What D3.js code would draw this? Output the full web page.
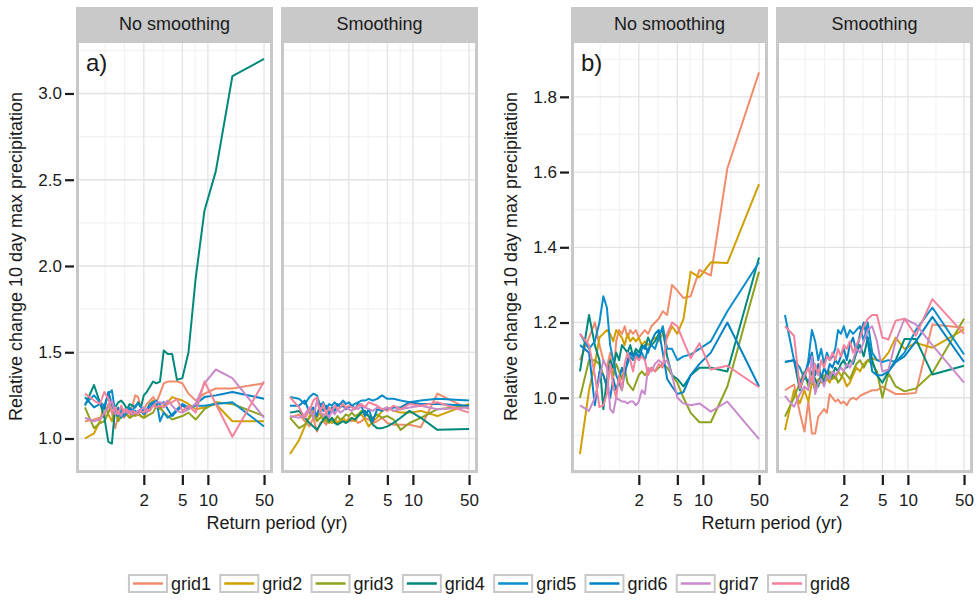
<!DOCTYPE html>
<html>
<head>
<meta charset="utf-8">
<script src="https://cdn.jsdelivr.net/npm/d3@7"></script>
<style>
  body { margin: 0; background: #ffffff; }
  svg { display: block; }
  text { font-family: "Liberation Sans", Arial, Helvetica, sans-serif; }
</style>
</head>
<body>
<svg id="chart" width="979" height="600"></svg>
<script>
// Return periods (yr) of the ranked annual maxima, shortest to longest
const returnPeriods = [1.0204, 1.0526, 1.0870, 1.1236, 1.1628, 1.2048, 1.25, 1.2987, 1.3514, 1.4085,
  1.4706, 1.5385, 1.6129, 1.6949, 1.7857, 1.8868, 2, 2.1277, 2.2727, 2.4390,
  2.6316, 2.8571, 3.125, 3.4483, 3.8462, 4.3478, 5, 5.8824, 7.1429, 9.0909,
  12.5, 20, 50];

const gridNames = ["grid1", "grid2", "grid3", "grid4", "grid5", "grid6", "grid7", "grid8"];
const gridColors = ["#F08C6C", "#D1A000", "#8FA11E", "#00897A", "#0A8DCB", "#0082C4", "#C98ACB", "#F3829A"];
const facetNames = ["No smoothing", "Smoothing"];
const xBreaks = [2, 5, 10, 50];
const yBreaksA = [1.0, 1.5, 2.0, 2.5, 3.0];
const yBreaksB = [1.0, 1.2, 1.4, 1.6, 1.8];
const yLimitsA = [0.8, 3.31];
const yLimitsB = [0.8, 1.951];

// a) no smoothing, one row per grid cell (grid1 .. grid8)
const aNoSmoothing = [
  [1.10,1.11,1.12,1.13,1.20,1.15,1.06,1.13,1.14,1.12,1.16,1.15,1.19,1.25,1.24,1.18,1.17,1.20,1.22,1.24,1.21,1.26,1.32,1.33,1.33,1.33,1.32,1.26,1.22,1.26,1.29,1.29,1.32],
  [1.00,1.03,1.10,1.20,1.14,1.10,1.18,1.12,1.15,1.13,1.14,1.12,1.15,1.13,1.14,1.13,1.12,1.16,1.20,1.22,1.18,1.17,1.19,1.21,1.24,1.23,1.22,1.20,1.17,1.18,1.20,1.10,1.10],
  [1.18,1.06,1.09,1.10,1.15,1.20,1.16,1.10,1.13,1.15,1.14,1.12,1.13,1.14,1.15,1.13,1.12,1.13,1.14,1.15,1.19,1.18,1.15,1.13,1.11,1.12,1.13,1.15,1.11,1.17,1.21,1.20,1.13],
  [1.19,1.31,1.21,1.12,0.98,0.97,1.18,1.21,1.22,1.20,1.17,1.20,1.19,1.18,1.21,1.18,1.25,1.27,1.30,1.33,1.32,1.33,1.51,1.49,1.49,1.34,1.35,1.50,1.93,2.32,2.55,3.10,3.20],
  [1.20,1.25,1.21,1.19,1.26,1.28,1.15,1.13,1.17,1.13,1.15,1.18,1.16,1.19,1.20,1.19,1.15,1.17,1.20,1.21,1.22,1.10,1.15,1.12,1.14,1.17,1.20,1.18,1.19,1.19,1.20,1.21,1.07],
  [1.24,1.18,1.20,1.17,1.27,1.20,1.14,1.18,1.12,1.16,1.15,1.17,1.14,1.16,1.14,1.16,1.14,1.16,1.18,1.20,1.21,1.20,1.21,1.17,1.13,1.16,1.19,1.17,1.20,1.24,1.25,1.27,1.23],
  [1.12,1.10,1.11,1.15,1.18,1.22,1.14,1.16,1.13,1.17,1.15,1.16,1.14,1.15,1.16,1.17,1.18,1.15,1.17,1.19,1.21,1.21,1.20,1.22,1.19,1.16,1.15,1.17,1.20,1.32,1.40,1.35,1.12],
  [1.26,1.22,1.20,1.27,1.23,1.15,1.18,1.14,1.19,1.15,1.17,1.14,1.16,1.15,1.14,1.16,1.15,1.17,1.16,1.19,1.18,1.19,1.18,1.20,1.21,1.23,1.16,1.19,1.15,1.33,1.20,1.01,1.33]
];

// a) smoothing
const aSmoothing = [
  [1.12,1.14,1.10,1.07,1.12,1.04,1.09,1.10,1.08,1.12,1.09,1.10,1.09,1.11,1.10,1.09,1.12,1.10,1.11,1.09,1.10,1.12,1.11,1.09,1.10,1.12,1.09,1.08,1.08,1.08,1.065,1.26,1.17],
  [0.91,0.99,1.07,1.13,1.16,1.12,1.15,1.10,1.12,1.10,1.09,1.11,1.09,1.10,1.12,1.10,1.11,1.12,1.10,1.13,1.14,1.11,1.07,1.10,1.12,1.16,1.18,1.16,1.15,1.15,1.16,1.13,1.20],
  [1.12,1.06,1.08,1.12,1.15,1.10,1.12,1.14,1.10,1.09,1.12,1.10,1.13,1.11,1.12,1.14,1.13,1.15,1.13,1.14,1.16,1.14,1.13,1.12,1.14,1.12,1.13,1.11,1.05,1.09,1.12,1.17,1.19],
  [1.15,1.16,1.12,1.09,1.07,1.05,1.08,1.11,1.13,1.10,1.12,1.09,1.08,1.09,1.10,1.09,1.10,1.12,1.11,1.13,1.15,1.16,1.13,1.08,1.06,1.06,1.07,1.09,1.12,1.16,1.12,1.05,1.055],
  [1.24,1.23,1.20,1.24,1.26,1.25,1.19,1.21,1.17,1.20,1.19,1.21,1.19,1.20,1.22,1.20,1.21,1.19,1.20,1.21,1.22,1.22,1.23,1.22,1.23,1.25,1.23,1.23,1.22,1.21,1.22,1.23,1.22],
  [1.19,1.19,1.22,1.15,1.18,1.13,1.20,1.16,1.19,1.14,1.18,1.16,1.20,1.18,1.19,1.17,1.18,1.19,1.17,1.20,1.19,1.13,1.17,1.10,1.17,1.16,1.17,1.18,1.18,1.21,1.20,1.20,1.19],
  [1.13,1.12,1.14,1.18,1.12,1.22,1.16,1.13,1.15,1.12,1.16,1.14,1.17,1.15,1.16,1.18,1.17,1.16,1.18,1.17,1.19,1.18,1.17,1.16,1.18,1.17,1.18,1.16,1.17,1.18,1.19,1.17,1.18],
  [1.24,1.18,1.12,1.16,1.22,1.24,1.15,1.20,1.14,1.18,1.16,1.19,1.17,1.18,1.20,1.18,1.19,1.18,1.17,1.19,1.20,1.18,1.21,1.20,1.19,1.17,1.16,1.19,1.17,1.20,1.19,1.21,1.15]
];

// b) no smoothing
const bNoSmoothing = [
  [1.10,1.16,1.20,1.14,1.10,1.08,1.12,1.05,1.15,1.18,1.17,1.19,1.16,1.18,1.17,1.18,1.16,1.17,1.18,1.17,1.19,1.20,1.21,1.23,1.22,1.30,1.285,1.265,1.27,1.34,1.325,1.61,1.865],
  [0.85,1.02,1.09,1.16,1.17,1.18,1.17,1.15,1.18,1.17,1.16,1.14,1.17,1.15,1.16,1.15,1.16,1.14,1.15,1.14,1.15,1.16,1.15,1.17,1.16,1.19,1.17,1.21,1.335,1.32,1.36,1.358,1.568],
  [1.00,1.10,1.10,1.09,1.06,1.03,1.08,1.06,1.09,1.07,1.05,1.08,1.04,1.03,1.02,1.04,1.06,1.07,1.06,1.07,1.08,1.07,1.08,1.09,1.08,1.06,1.04,1.00,0.96,0.935,0.935,1.03,1.335],
  [1.07,1.22,1.14,1.10,0.97,1.05,1.10,1.08,1.12,1.10,1.14,1.13,1.12,1.14,1.11,1.13,1.12,1.14,1.13,1.16,1.14,1.15,1.17,1.18,1.11,1.06,1.05,1.03,1.06,1.08,1.08,1.07,1.373],
  [1.17,1.13,1.15,1.20,1.27,1.24,1.14,1.10,1.06,1.04,1.02,1.07,1.09,1.11,1.10,1.12,1.11,1.12,1.10,1.13,1.14,1.13,1.16,1.19,1.13,1.13,1.10,1.11,1.115,1.13,1.15,1.23,1.36],
  [1.14,1.12,0.98,1.07,1.06,1.03,1.00,1.05,1.02,1.05,1.08,1.06,1.10,1.12,1.11,1.12,1.10,1.13,1.14,1.12,1.15,1.17,1.18,1.12,1.05,1.03,1.01,1.015,1.06,1.09,1.12,1.20,1.03],
  [0.98,0.965,1.00,1.05,1.10,1.08,0.97,0.96,1.00,0.995,0.99,0.99,0.985,0.99,0.99,0.98,0.99,1.02,1.01,1.08,1.07,1.09,1.10,1.09,1.10,1.06,1.00,0.985,0.98,0.985,0.963,0.99,0.89],
  [1.17,1.14,1.06,0.975,0.98,1.01,1.09,1.03,1.00,1.06,1.02,1.09,1.12,1.10,1.07,1.11,1.10,1.11,1.10,1.06,1.08,1.07,1.09,1.08,1.17,1.20,1.19,1.15,1.105,1.145,1.075,1.085,1.028]
];

// b) smoothing
const bSmoothing = [
  [1.02,1.035,0.96,0.91,0.99,0.905,0.905,0.95,0.96,0.97,0.96,1.01,1.00,0.99,0.995,0.985,0.99,0.98,0.995,1.00,0.995,1.005,1.01,1.015,1.02,1.02,1.03,1.02,1.01,1.01,1.013,1.195,1.186],
  [0.914,1.02,0.985,1.02,0.99,1.04,1.03,1.05,1.04,1.06,1.05,1.04,1.06,1.05,1.07,1.06,1.05,1.03,1.04,1.06,1.08,1.07,1.09,1.10,1.105,1.10,1.10,1.12,1.16,1.13,1.146,1.133,1.182],
  [0.95,1.00,1.04,1.07,1.03,1.05,1.02,1.04,1.06,1.04,1.05,1.07,1.05,1.06,1.04,1.05,1.07,1.06,1.05,1.07,1.09,1.10,1.08,1.10,1.09,1.07,1.00,1.065,1.03,1.017,1.025,1.066,1.21],
  [1.095,1.10,1.02,1.06,1.04,1.07,1.05,1.03,1.06,1.04,1.07,1.05,1.06,1.08,1.07,1.09,1.10,1.08,1.10,1.09,1.12,1.14,1.11,1.16,1.10,1.06,1.04,1.07,1.10,1.156,1.156,1.062,1.085],
  [1.22,1.10,1.08,1.05,1.10,1.18,1.15,1.10,1.13,1.09,1.12,1.10,1.11,1.13,1.18,1.17,1.19,1.16,1.18,1.17,1.18,1.19,1.15,1.20,1.12,1.10,1.095,1.10,1.095,1.12,1.18,1.24,1.115],
  [1.095,1.10,1.04,1.06,1.09,1.12,1.06,1.09,1.05,1.08,1.06,1.09,1.08,1.10,1.09,1.11,1.13,1.10,1.14,1.16,1.12,1.17,1.20,1.15,1.07,1.06,1.06,1.07,1.095,1.11,1.15,1.215,1.095],
  [1.005,0.976,1.01,1.03,1.02,1.11,1.01,1.04,1.05,1.03,1.06,1.05,1.07,1.06,1.07,1.08,1.07,1.09,1.08,1.10,1.13,1.12,1.15,1.18,1.19,1.15,1.07,1.075,1.15,1.21,1.195,1.14,1.04],
  [1.19,1.165,1.025,1.06,1.08,1.04,1.09,1.06,1.10,1.08,1.11,1.10,1.12,1.10,1.13,1.11,1.14,1.13,1.15,1.12,1.14,1.16,1.19,1.21,1.22,1.22,1.16,1.155,1.205,1.21,1.165,1.262,1.17]
];

// ---- drawing ----
const svg = d3.select("#chart");

// Gumbel reduced variate used for the return-period axis
const gumbel = T => -Math.log(-Math.log(1 - 1 / T));
const gValues = returnPeriods.map(gumbel);
const gLo = d3.min(gValues), gHi = d3.max(gValues);
const gPad = 0.05 * (gHi - gLo);
const xDomain = [gLo - gPad, gHi + gPad];

// minor breaks halfway between major breaks, extended one step past the ends
function minorBreaks(major, lo, hi) {
  const b = major.slice();
  const step = b[1] - b[0];
  if (lo < b[0]) b.unshift(b[0] - step);
  if (hi > b[b.length - 1]) b.push(b[b.length - 1] + step);
  const out = [];
  for (let i = 0; i < b.length - 1; i++) out.push((b[i] + b[i + 1]) / 2);
  return out.concat(b).filter(v => v >= lo && v <= hi && !major.some(m => Math.abs(m - v) < 1e-9));
}

const panelW = 197, panelTop = 40, panelBottom = 473, stripTop = 7;
const panels = [
  { left: 76,  facet: 0, data: aNoSmoothing, yLim: yLimitsA, yBreaks: yBreaksA, tag: "a)" },
  { left: 281, facet: 1, data: aSmoothing,   yLim: yLimitsA, yBreaks: yBreaksA },
  { left: 571, facet: 0, data: bNoSmoothing, yLim: yLimitsB, yBreaks: yBreaksB, tag: "b)" },
  { left: 776, facet: 1, data: bSmoothing,   yLim: yLimitsB, yBreaks: yBreaksB }
];

const borderGrey = "#c8c8c8";
const xMajorG = xBreaks.map(gumbel);

panels.forEach(p => {
  const x = d3.scaleLinear().domain(xDomain).range([p.left, p.left + panelW]);
  const y = d3.scaleLinear().domain(p.yLim).range([panelBottom, panelTop]);
  const g = svg.append("g");

  g.append("rect").attr("x", p.left).attr("y", panelTop)
    .attr("width", panelW).attr("height", panelBottom - panelTop).attr("fill", "#ffffff");

  // minor grid
  minorBreaks(xMajorG, xDomain[0], xDomain[1]).forEach(v => {
    g.append("line").attr("x1", x(v)).attr("x2", x(v)).attr("y1", panelTop).attr("y2", panelBottom)
      .attr("stroke", "#f2f2f2").attr("stroke-width", 1.1);
  });
  minorBreaks(p.yBreaks, p.yLim[0], p.yLim[1]).forEach(v => {
    g.append("line").attr("x1", p.left).attr("x2", p.left + panelW).attr("y1", y(v)).attr("y2", y(v))
      .attr("stroke", "#f2f2f2").attr("stroke-width", 1.1);
  });
  // major grid
  xMajorG.forEach(v => {
    g.append("line").attr("x1", x(v)).attr("x2", x(v)).attr("y1", panelTop).attr("y2", panelBottom)
      .attr("stroke", "#e3e3e3").attr("stroke-width", 1.3);
  });
  p.yBreaks.forEach(v => {
    g.append("line").attr("x1", p.left).attr("x2", p.left + panelW).attr("y1", y(v)).attr("y2", y(v))
      .attr("stroke", "#e3e3e3").attr("stroke-width", 1.3);
  });

  // series lines
  const line = d3.line().x((d, i) => x(gValues[i])).y(d => y(d));
  p.data.forEach((vals, k) => {
    g.append("path").datum(vals).attr("d", line)
      .attr("fill", "none").attr("stroke", gridColors[k])
      .attr("stroke-width", 2).attr("stroke-linejoin", "round");
  });

  // panel border
  g.append("rect").attr("x", p.left + 1.5).attr("y", panelTop + 1.5)
    .attr("width", panelW - 3).attr("height", panelBottom - panelTop - 3)
    .attr("fill", "none").attr("stroke", borderGrey).attr("stroke-width", 3);

  // facet strip
  g.append("rect").attr("x", p.left).attr("y", stripTop)
    .attr("width", panelW).attr("height", panelTop - stripTop).attr("fill", "#c9c9ca");
  g.append("text").attr("x", p.left + panelW / 2).attr("y", 30)
    .attr("text-anchor", "middle").attr("font-size", 18).attr("fill", "#1a1a1a")
    .text(facetNames[p.facet]);

  if (p.tag) {
    g.append("text").attr("x", p.left + 10).attr("y", 71)
      .attr("font-size", 24).attr("fill", "#1a1a1a").text(p.tag);
  }

  // x axis
  const xAxis = d3.axisBottom(x).tickValues(xMajorG)
    .tickFormat((d, i) => String(xBreaks[i])).tickSizeInner(10).tickSizeOuter(0).tickPadding(9);
  const gx = g.append("g").attr("transform", `translate(0,${panelBottom + 2})`).call(xAxis);
  gx.select(".domain").remove();
  gx.selectAll(".tick line").attr("stroke", "#1a1a1a").attr("stroke-width", 2.2);
  gx.selectAll(".tick text").attr("font-size", 17).attr("fill", "#1a1a1a")
    .attr("font-family", "'Liberation Sans', Arial, sans-serif");

  // y axis on the first facet of each row
  if (p.facet === 0) {
    const yAxis = d3.axisLeft(y).tickValues(p.yBreaks).tickFormat(d3.format(".1f"))
      .tickSizeInner(9).tickSizeOuter(0).tickPadding(3);
    const gy = g.append("g").attr("transform", `translate(${p.left - 2},0)`).call(yAxis);
    gy.select(".domain").remove();
    gy.selectAll(".tick line").attr("stroke", "#1a1a1a").attr("stroke-width", 2.2);
    gy.selectAll(".tick text").attr("font-size", 17).attr("fill", "#1a1a1a")
      .attr("font-family", "'Liberation Sans', Arial, sans-serif");
  }
});

// axis titles for each row of facets
[{ left: 76, right: 478 }, { left: 571, right: 973 }].forEach(r => {
  svg.append("text").attr("x", (r.left + r.right) / 2).attr("y", 529)
    .attr("text-anchor", "middle").attr("font-size", 18).attr("fill", "#1a1a1a")
    .text("Return period (yr)");
  const cx = r.left - 54, cy = (panelTop + panelBottom) / 2;
  svg.append("text").attr("transform", `translate(${cx},${cy}) rotate(-90)`)
    .attr("text-anchor", "middle").attr("font-size", 18).attr("fill", "#1a1a1a")
    .text("Relative change 10 day max precipitation");
});

// legend along the bottom
const keyW = 40, keyH = 19, itemStep = 91.3, legendTop = 574;
const legendStart = 489.5 - (itemStep * gridNames.length - 7.3) / 2;
const legend = svg.append("g");
gridNames.forEach((name, k) => {
  const lx = legendStart + k * itemStep;
  legend.append("rect").attr("x", lx + 1).attr("y", legendTop + 1)
    .attr("width", keyW - 2).attr("height", keyH - 2)
    .attr("fill", "#ffffff").attr("stroke", borderGrey).attr("stroke-width", 2);
  legend.append("line").attr("x1", lx + 5).attr("x2", lx + keyW - 5)
    .attr("y1", legendTop + keyH / 2).attr("y2", legendTop + keyH / 2)
    .attr("stroke", gridColors[k]).attr("stroke-width", 2.5);
  legend.append("text").attr("x", lx + keyW + 3).attr("y", legendTop + keyH / 2 + 6.5)
    .attr("font-size", 18).attr("fill", "#1a1a1a").text(name);
});
</script>
</body>
</html>
